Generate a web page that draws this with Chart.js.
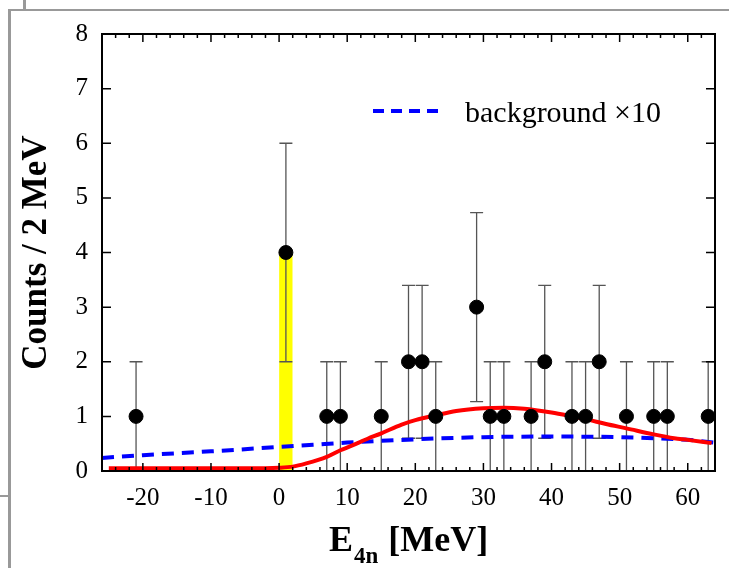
<!DOCTYPE html>
<html lang="en">
<head>
<meta charset="UTF-8">
<title>E4n spectrum</title>
<script src="https://cdn.jsdelivr.net/npm/chart.js@4.4.1/dist/chart.umd.min.js"></script>
<style>
    html, body { margin: 0; padding: 0; background: #fff; }
</style>
</head>
<body>
<canvas id="myChart" width="729" height="568"></canvas>

<script>
    // measured counts (2 MeV bins) with asymmetric error bounds
    const energies = [-21, 1, 7, 9, 15, 19, 21, 23, 29, 31, 33, 37, 39, 43, 45, 47, 51, 55, 57, 63];
    const counts   = [1, 4, 1, 1, 1, 2, 2, 1, 3, 1, 1, 1, 2, 1, 1, 2, 1, 1, 1, 1];
    const errLow   = [0, 2, 0, 0, 0, 0.6, 0.6, 0, 1.27, 0, 0, 0, 0.6, 0, 0, 0.6, 0, 0, 0, 0];
    const errHigh  = [2, 6, 2, 2, 2, 3.4, 3.4, 2, 4.73, 2, 2, 2, 3.4, 2, 2, 3.4, 2, 2, 2, 2];

    // fit curve (red)
    const fitX = [-25, -20, -15, -10, -5, 0, 2, 4, 7, 9, 10.4, 13, 15, 18, 20, 23, 26, 30, 33, 36, 40, 43, 45, 48, 51, 55, 58, 60, 63.5];
    const fitY = [0.05, 0.05, 0.05, 0.05, 0.05, 0.06, 0.08, 0.14, 0.26, 0.38, 0.45, 0.59, 0.69, 0.85, 0.93, 1.02, 1.1, 1.15, 1.16, 1.14, 1.07, 1.0, 0.95, 0.86, 0.78, 0.67, 0.6, 0.57, 0.51];

    // background x10 (blue dashed)
    const bgX = [-26, -20, -10, 0, 5, 10, 20, 30, 40, 50, 55, 60, 64];
    const bgY = [0.24, 0.29, 0.36, 0.44, 0.48, 0.52, 0.58, 0.62, 0.63, 0.62, 0.6, 0.57, 0.52];

    // highlighted bin
    const peakBin = [0, 2];
    const peakHeight = 4;

    const xTicks = [-20, -10, 0, 10, 20, 30, 40, 50, 60];
    const xMinor = [-24, -22, -18, -16, -14, -12, -8, -6, -4, -2, 2, 4, 6, 8, 12, 14, 16, 18, 22, 24, 26, 28, 32, 34, 36, 38, 42, 44, 46, 48, 52, 54, 56, 58, 62];
    const yTicks = [0, 1, 2, 3, 4, 5, 6, 7, 8];

    const serif = "'Liberation Serif', 'DejaVu Serif', serif";

    // gray page frame behind the plot
    const pageFrame = {
        id: 'pageFrame',
        beforeDraw(chart) {
            const ctx = chart.ctx;
            ctx.save();
            ctx.strokeStyle = '#999';
            ctx.lineWidth = 3;
            ctx.beginPath();
            ctx.moveTo(9.5, 9); ctx.lineTo(9.5, 568);
            ctx.moveTo(24.5, 0); ctx.lineTo(24.5, 10);
            ctx.stroke();
            ctx.lineWidth = 2;
            ctx.beginPath();
            ctx.moveTo(8, 10); ctx.lineTo(729, 10);
            ctx.moveTo(0, 496); ctx.lineTo(9, 496);
            ctx.stroke();
            ctx.restore();
        }
    };

    // error bars, drawn right after the yellow bin
    const errorBars = {
        id: 'errorBars',
        afterDatasetDraw(chart, args) {
            if (args.index !== 3) return;
            const { ctx, scales: { x, y } } = chart;
            ctx.save();
            ctx.strokeStyle = '#555';
            ctx.lineWidth = 1.3;
            ctx.beginPath();
            energies.forEach((e, i) => {
                const px = x.getPixelForValue(e);
                const lo = y.getPixelForValue(errLow[i]);
                const hi = y.getPixelForValue(errHigh[i]);
                ctx.moveTo(px, lo); ctx.lineTo(px, hi);
                ctx.moveTo(px - 6.5, hi); ctx.lineTo(px + 6.5, hi);
                if (errLow[i] > 0) { ctx.moveTo(px - 6.5, lo); ctx.lineTo(px + 6.5, lo); }
            });
            ctx.stroke();
            ctx.restore();
        }
    };

    // axes box with inward ticks, legend and x title
    const frame = {
        id: 'frame',
        afterDraw(chart) {
            const { ctx, chartArea: a, scales: { x, y } } = chart;
            ctx.save();
            ctx.strokeStyle = '#000';
            ctx.lineWidth = 1.5;
            ctx.beginPath();
            xTicks.forEach(v => {
                const px = x.getPixelForValue(v);
                ctx.moveTo(px, a.bottom); ctx.lineTo(px, a.bottom - 8);
                ctx.moveTo(px, a.top); ctx.lineTo(px, a.top + 8);
            });
            xMinor.forEach(v => {
                const px = x.getPixelForValue(v);
                ctx.moveTo(px, a.bottom); ctx.lineTo(px, a.bottom - 4);
                ctx.moveTo(px, a.top); ctx.lineTo(px, a.top + 4);
            });
            yTicks.forEach(v => {
                const py = y.getPixelForValue(v);
                ctx.moveTo(a.left, py); ctx.lineTo(a.left + 9, py);
                ctx.moveTo(a.right, py); ctx.lineTo(a.right - 9, py);
            });
            ctx.stroke();
            ctx.lineWidth = 2;
            ctx.strokeRect(a.left, a.top, a.right - a.left, a.bottom - a.top);

            // legend
            const bg = chart.data.datasets[2];
            ctx.strokeStyle = bg.borderColor;
            ctx.lineWidth = 4;
            ctx.setLineDash([11, 7]);
            ctx.beginPath();
            ctx.moveTo(373, 111); ctx.lineTo(438, 111);
            ctx.stroke();
            ctx.setLineDash([]);
            ctx.fillStyle = '#000';
            ctx.font = '30px ' + serif;
            ctx.textBaseline = 'alphabetic';
            ctx.fillText(bg.label, 465, 122);

            // x title with subscript
            const big = 'bold 36px ' + serif, small = 'bold 23px ' + serif;
            ctx.font = big; const w1 = ctx.measureText('E').width;
            ctx.font = small; const w2 = ctx.measureText('4n').width;
            ctx.font = big; const w3 = ctx.measureText(' [MeV]').width;
            let sx = (a.left + a.right) / 2 - (w1 + w2 + 2 + w3) / 2;
            ctx.fillText('E', sx, 551);
            ctx.font = small; ctx.fillText('4n', sx + w1 + 1, 563);
            ctx.font = big; ctx.fillText(' [MeV]', sx + w1 + w2 + 2, 551);
            ctx.restore();
        }
    };

    const ctx = document.getElementById('myChart');

    new Chart(ctx, {
        type: 'scatter',
        data: {
            datasets: [
                {
                    label: 'data',
                    data: energies.map((e, i) => ({ x: e, y: counts[i] })),
                    backgroundColor: '#000',
                    borderColor: '#000',
                    pointRadius: 7,
                    showLine: false
                },
                {
                    label: 'fit',
                    data: fitX.map((e, i) => ({ x: e, y: fitY[i] })),
                    showLine: true,
                    borderColor: '#ff0000',
                    borderWidth: 4,
                    pointRadius: 0,
                    cubicInterpolationMode: 'monotone'
                },
                {
                    label: 'background \u00d710',
                    data: bgX.map((e, i) => ({ x: e, y: bgY[i] })),
                    showLine: true,
                    borderColor: '#0000ff',
                    borderWidth: 4,
                    borderDash: [12, 8],
                    pointRadius: 0,
                    cubicInterpolationMode: 'monotone'
                },
                {
                    label: 'peak',
                    data: peakBin.map(e => ({ x: e, y: peakHeight })),
                    showLine: true,
                    fill: 'origin',
                    backgroundColor: '#ffff00',
                    borderWidth: 0,
                    pointRadius: 0
                }
            ]
        },
        options: {
            responsive: false,
            animation: false,
            layout: { padding: { left: 0, top: 34, right: 14, bottom: 0 } },
            plugins: {
                legend: { display: false },
                tooltip: { enabled: false }
            },
            scales: {
                x: {
                    type: 'linear',
                    min: -26,
                    max: 64,
                    afterBuildTicks: s => { s.ticks = xTicks.map(v => ({ value: v })); },
                    afterFit: s => { s.height = 97; },
                    grid: { display: false },
                    border: { display: false },
                    ticks: {
                        color: '#000',
                        font: { family: serif, size: 25 },
                        padding: 4,
                        maxRotation: 0,
                        autoSkip: false
                    }
                },
                y: {
                    min: 0,
                    max: 8,
                    afterBuildTicks: s => { s.ticks = yTicks.map(v => ({ value: v })); },
                    afterFit: s => { s.width = 102; },
                    grid: { display: false },
                    border: { display: false },
                    ticks: {
                        color: '#000',
                        font: { family: serif, size: 25 },
                        padding: 6
                    },
                    title: {
                        display: true,
                        text: 'Counts / 2 MeV',
                        color: '#000',
                        font: { family: serif, size: 35, weight: 'bold' },
                        padding: { top: 16, bottom: 0 }
                    }
                }
            }
        },
        plugins: [pageFrame, errorBars, frame]
    });
</script>
</body>
</html>
